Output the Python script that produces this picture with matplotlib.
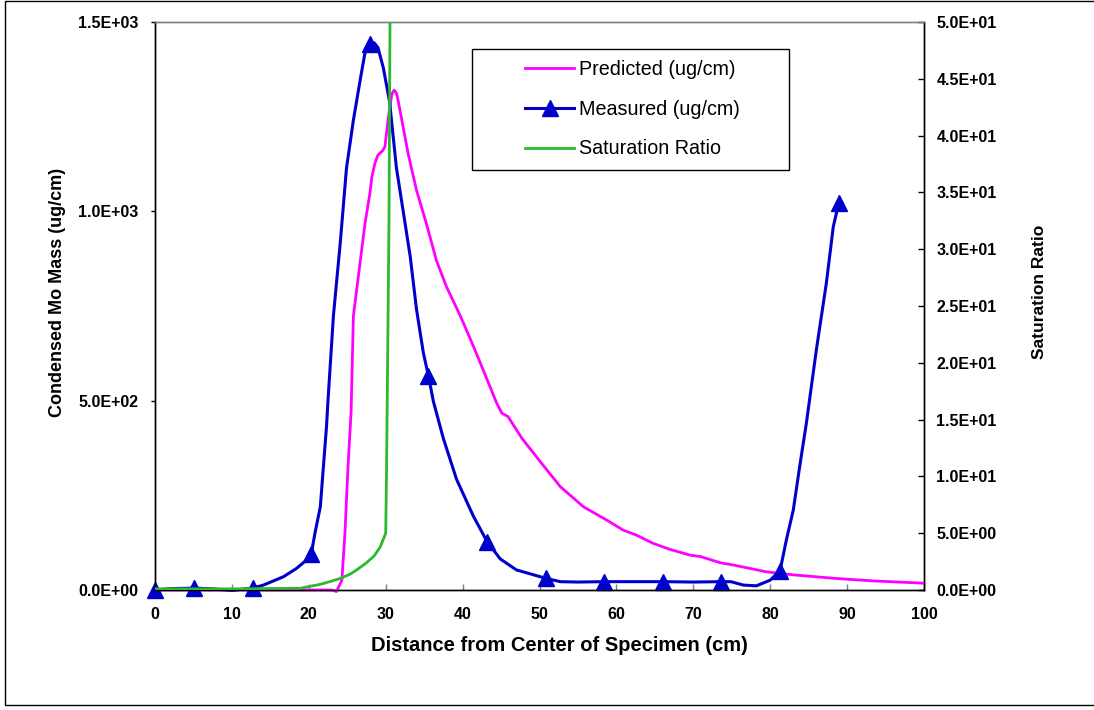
import matplotlib
matplotlib.use("Agg")
import matplotlib.pyplot as plt
from matplotlib.ticker import FuncFormatter
from matplotlib.patches import Rectangle

# ---------------- data ----------------
# Predicted condensed Mo mass (ug/cm)
pred_x = [0, 10, 20, 23.0, 23.6, 24.3, 24.7, 25.1, 25.5, 25.8, 26.7, 27.3, 27.95,
          28.2, 28.6, 29.0, 29.6, 29.9, 30.3, 30.8, 31.1, 31.4, 31.6, 32.1, 32.9,
          34.0, 35.3, 36.6, 37.9, 39.7, 41.4, 43.1, 44.4, 45.1, 45.9, 47.7, 50.1,
          52.7, 55.7, 58.7, 60.9, 62.6, 64.8, 67.0, 69.6, 71.0, 73.5, 75.2, 79.5,
          83.0, 88.2, 93.4, 100]
pred_y = [0, 0, 0, 0, -4, 26, 150, 326, 470, 724, 870, 967, 1048,
          1091, 1127, 1149, 1160, 1171, 1241, 1310, 1320, 1312, 1294, 1241, 1154,
          1056, 967, 870, 801, 724, 644, 560, 495, 467, 458, 401, 339,
          273, 220, 185, 158, 145, 123, 107, 92, 88, 72, 66, 48,
          40, 31, 24, 18]

# Measured condensed Mo mass (ug/cm): sample positions with markers
meas_mark_x = [0, 5.08, 12.7, 20.32, 27.94, 35.56, 43.18, 50.8, 58.42, 66.04,
               73.66, 81.28, 88.9]
# traced smoothed measured curve (passes through the marker points)
meas_x = [0, 2.0, 5.08, 7.5, 10.0, 12.7, 14.1, 16.7, 18.4, 19.7, 20.32, 20.8,
          21.5, 21.9, 22.3, 22.5, 23.2, 24.1, 24.9, 25.8, 26.7, 27.3, 27.94, 28.5,
          29.0, 29.7, 30.5, 31.4, 32.3, 33.2, 34.0, 34.9, 35.56, 36.2, 37.5, 39.2,
          41.4, 43.18, 44.9, 47.0, 50.8, 52.7, 55.0, 58.42, 62.0, 66.04, 70.0,
          73.66, 74.9, 76.5, 78.2, 80.0, 81.28, 82.1, 83.0, 83.9, 84.7, 86.0,
          87.3, 88.2, 88.9]
meas_y = [0, 3.5, 5, 3, -1, 5, 13, 35, 57, 79, 95, 150,
          220, 326, 431, 502, 724, 919, 1114, 1241, 1349, 1418, 1442, 1445,
          1432, 1378, 1290, 1114, 997, 879, 742, 626, 565, 498, 400, 293,
          195, 128, 82, 53, 31, 22, 21, 22, 22, 22, 21,
          22, 22, 13, 11, 26, 51, 132, 211, 335, 440, 634,
          810, 959, 1021]

# Saturation ratio (right axis)
sat_x = [0, 10, 18.9, 20.0, 21.5, 22.8, 24.0, 25.4, 26.5, 27.5, 28.5, 29.3,
         30.0, 30.1, 30.2, 30.43, 30.56, 30.6]
sat_y = [0.1, 0.1, 0.15, 0.3, 0.5, 0.75, 1.0, 1.4, 1.9, 2.4, 3.0, 3.8,
         5.0, 10.0, 16.7, 32.6, 50.2, 52]

x_ticks = [0, 10, 20, 30, 40, 50, 60, 70, 80, 90, 100]
yl_ticks = [0, 500, 1000, 1500]
yr_ticks = [0, 5, 10, 15, 20, 25, 30, 35, 40, 45, 50]

labels = ["Predicted (ug/cm)", "Measured (ug/cm)", "Saturation Ratio"]

# ---------------- figure ----------------
plt.rcParams['font.family'] = ['Liberation Sans', 'DejaVu Sans']

W, H = 1094, 710
fig = plt.figure(figsize=(W / 100, H / 100), dpi=100)
L, R, T, B = 155, 924, 22, 590
ax = fig.add_axes([L / W, (H - B) / H, (R - L) / W, (B - T) / H])
ax2 = ax.twinx()

PINK = '#FF00FF'
BLUE = '#0000CC'
GREEN = '#2DB82D'

mark_idx = [meas_x.index(v) for v in meas_mark_x]

l1, = ax.plot(pred_x, pred_y, color=PINK, lw=2.0, clip_on=False, zorder=3)
l2, = ax.plot(meas_x, meas_y, color=BLUE, lw=2.2, marker='^', markersize=11.5,
              markevery=mark_idx, markerfacecolor=BLUE, markeredgecolor=BLUE,
              clip_on=False, zorder=4)
l3, = ax2.plot(sat_x, sat_y, color=GREEN, lw=2.0, zorder=3)

ax.set_xlim(0, 100)
ax.set_ylim(0, 1500)
ax2.set_ylim(0, 50)
ax.set_xticks(x_ticks)
ax.set_yticks(yl_ticks)
ax2.set_yticks(yr_ticks)

fmt = FuncFormatter(lambda v, p: f"{v:.1E}")
ax.yaxis.set_major_formatter(fmt)
ax2.yaxis.set_major_formatter(fmt)

for lab in ax.get_xticklabels() + ax.get_yticklabels() + ax2.get_yticklabels():
    lab.set_fontsize(11.5)
    lab.set_fontweight('bold')

ax.tick_params(axis='x', direction='in', length=4, width=1, color='#808080', pad=12)
ax.tick_params(axis='y', direction='out', length=3, width=1, color='black', pad=9)
ax2.tick_params(axis='y', direction='in', length=4, width=1, color='black', pad=9)

for a in (ax, ax2):
    a.spines['top'].set_color('#808080')
    a.spines['left'].set_color('black')
    a.spines['bottom'].set_color('black')
    a.spines['right'].set_color('black')
    for s in a.spines.values():
        s.set_linewidth(1)
ax.patch.set_visible(False)

ax.set_xlabel("Distance from Center of Specimen (cm)", fontsize=14.5, fontweight='bold')
ax.set_ylabel("Condensed Mo Mass (ug/cm)", fontsize=13, fontweight='bold')
ax2.set_ylabel("Saturation Ratio", fontsize=12.5, fontweight='bold', rotation=90)
ax.xaxis.set_label_coords((559.5 - L) / (R - L), (B - 636) / (B - T))
ax.yaxis.set_label_coords((57 - L) / (R - L), (B - 292) / (B - T))
ax2.yaxis.set_label_coords((1040 - L) / (R - L), (B - 292) / (B - T))
ax2.yaxis.label.set_va('center')
ax.yaxis.label.set_va('center')

# legend box
bx0, by0, bx1, by1 = 472, 49, 789, 170
ax2.add_patch(Rectangle(((bx0 - L) / (R - L), (B - by1) / (B - T)),
                        (bx1 - bx0) / (R - L), (by1 - by0) / (B - T),
                        transform=ax2.transAxes, facecolor='white',
                        edgecolor='black', lw=1, zorder=5, clip_on=False))
leg = ax2.legend([l1, l2, l3], labels, loc='upper left',
                 bbox_to_anchor=((525 - L) / (R - L), (B - 60) / (B - T)),
                 frameon=False, fontsize=14.2, handlelength=2.5,
                 handletextpad=0.25, labelspacing=1.05, borderpad=0,
                 borderaxespad=0, numpoints=1)
leg.set_zorder(6)

# outer chart border
fig.add_artist(Rectangle((5 / W, (H - 705) / H), 1.2, (705 - 1) / H,
                         transform=fig.transFigure, fill=False,
                         edgecolor='black', lw=1))

fig.savefig("out.png", dpi=100)
